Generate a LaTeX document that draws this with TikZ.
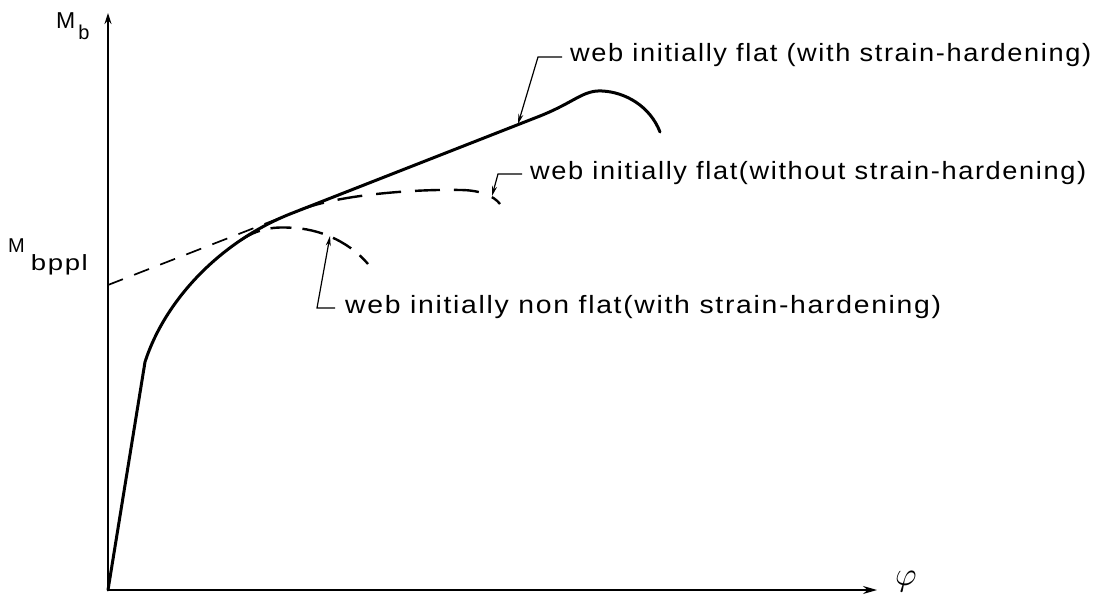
\documentclass[tikz,border=0pt]{standalone}
\usepackage{fontspec}
\setmainfont{Liberation Sans}
\newfontfamily\lett[LetterSpace=6]{Liberation Sans}
\usetikzlibrary{arrows.meta}
\begin{document}
\begin{tikzpicture}[x=1pt,y=-1pt,
  axis/.style={line width=1.4pt},
  curve/.style={line width=3pt, line cap=round, line join=round},
  dcurve/.style={line width=2.4pt},
  leader/.style={line width=1.2pt},
  lbl/.style={inner sep=0pt, anchor=base west, font=\lett\fontsize{25}{25}\selectfont}]
\useasboundingbox (0,0) rectangle (1104,599);
% axes
\coordinate (O) at (108,590);
\coordinate (Ytop) at (108,13);
\coordinate (Xend) at (877,590);
\draw[axis,-{Stealth[length=11pt,width=7pt]}] (O) -- (Ytop);
\draw[axis,-{Stealth[length=14pt,width=8pt]}] (O) -- (Xend);
% axis labels
\node[inner sep=0pt, anchor=base west] (mb) at (56,29)
  {{\fontsize{23}{23}\selectfont M}\hspace{3pt}\raisebox{-11pt}{\fontsize{20}{20}\selectfont b}};
\node[inner sep=0pt, anchor=base west] (mbppl) at (8,252)
  {{\fontsize{20}{20}\selectfont M}\hspace{6pt}\raisebox{-18pt}{\resizebox{57pt}{\height}{\lett\fontsize{22}{22}\selectfont bppl}}};
\node[inner sep=0pt, anchor=base west] (phi) at (895,585)
  {\scalebox{3.3}{$\varphi$}};
% tangent (dashed)
\coordinate (T0) at (108,285);
\coordinate (T1) at (290,214);
\draw[line width=1.7pt, dash pattern=on 16pt off 12pt] (T0) -- (T1);
% main curve (web initially flat, with strain-hardening)
\draw[curve] (O) -- (145,362) .. controls (165,300) and (220,242) .. (T1)
  -- (540,116) .. controls (575,102) and (583,90) .. (602,91)
  .. controls (625,92) and (650,106) .. (660,132);
% web initially flat without strain-hardening
\draw[dcurve, dash pattern=on 25pt off 14pt] (300,210) .. controls (340,194) and (420,189) .. (460,190)
  .. controls (480,190) and (494,196) .. (500,204);
% web initially non flat
\draw[dcurve, dash pattern=on 21pt off 11pt] (241,240) .. controls (262,226) and (280,227) .. (295,228)
  .. controls (325,230) and (352,245) .. (368,264);
% arrow targets
\coordinate (a1) at (518,124);
\coordinate (a2) at (492,196);
\coordinate (a3) at (330,236);
% labels
\node[lbl] (t1) at (570,62) {\resizebox{521pt}{\height}{web initially flat (with strain-hardening)}};
\node[lbl] (t2) at (530,180) {\resizebox{556pt}{\height}{web initially flat(without strain-hardening)}};
\node[lbl] (t3) at (345,313) {\resizebox{596pt}{\height}{web initially non flat(with strain-hardening)}};
% leaders
\draw[leader,-{Stealth[length=10pt,width=5pt]}] ([xshift=-8pt,yshift=5pt]t1.base west) -- ++(-24,0) -- (a1);
\draw[leader,-{Stealth[length=10pt,width=5pt]}] ([xshift=-8pt,yshift=6pt]t2.base west) -- ++(-24,0) -- (a2);
\draw[leader,-{Stealth[length=10pt,width=5pt]}] ([xshift=-10pt,yshift=5pt]t3.base west) -- ++(-18,0) -- (a3);
\end{tikzpicture}
\end{document}
